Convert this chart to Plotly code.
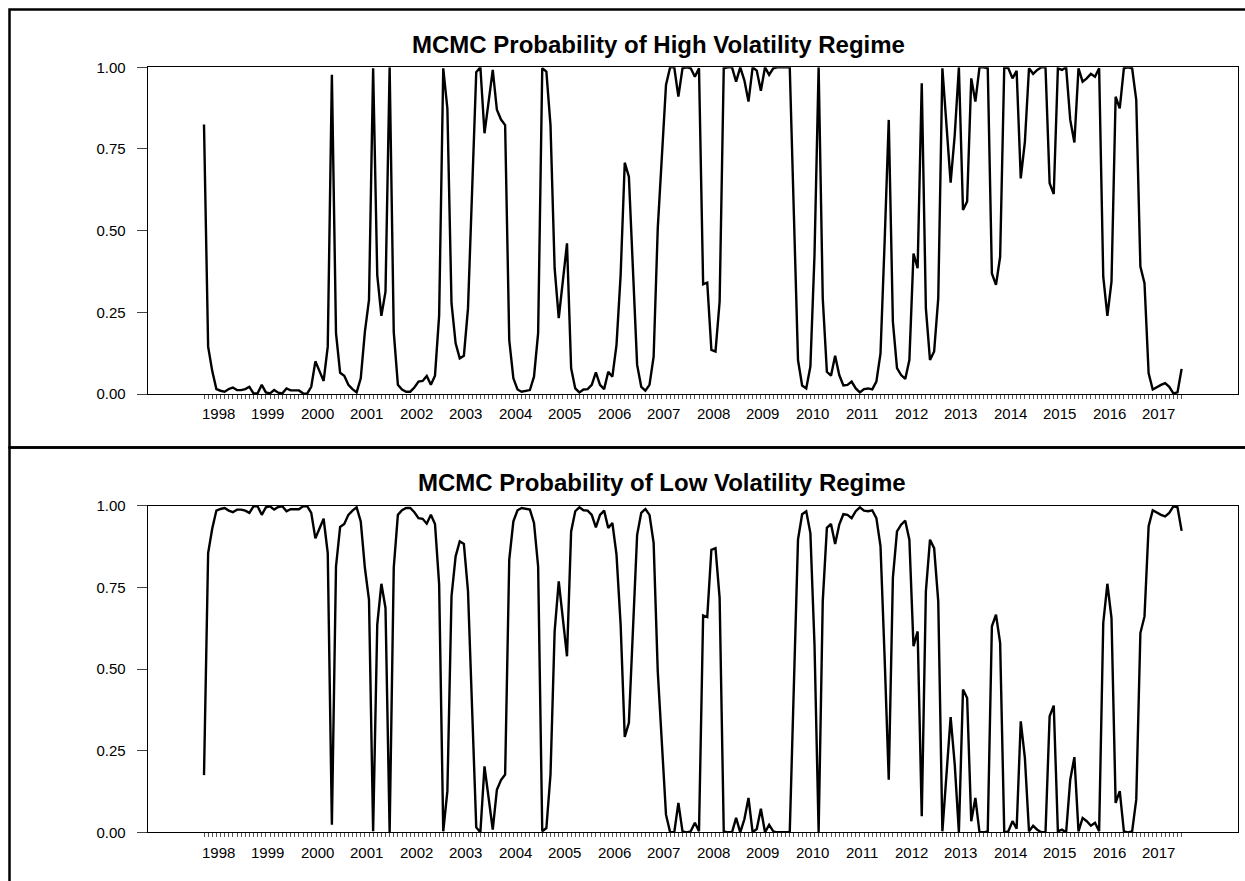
import plotly.graph_objects as go

# ---------------- data (monthly, 1998M03 - 2017M12) ----------------
start_year = 1998
start_month = 3
years = list(range(1998, 2018))
year_labels = [str(y) for y in years]
y_ticks = [0.0, 0.25, 0.5, 0.75, 1.0]
y_labels = ["0.00", "0.25", "0.50", "0.75", "1.00"]
title_high = "MCMC Probability of High Volatility Regime"
title_low = "MCMC Probability of Low Volatility Regime"

high = [
    0.825, 0.145, 0.07, 0.015, 0.01, 0.007, 0.015, 0.02, 0.012, 0.012,
    0.015, 0.022, 0.002, 0.002, 0.028, 0.005, 0.002, 0.012, 0.004, 0.002,
    0.017, 0.011, 0.011, 0.011, 0.002, 0.001, 0.022, 0.10, 0.07, 0.04,
    0.145, 0.977, 0.186, 0.065, 0.056, 0.028, 0.015, 0.005, 0.048, 0.19,
    0.288, 0.997, 0.364, 0.239, 0.313, 1.0, 0.19, 0.028, 0.014, 0.007,
    0.007, 0.02, 0.038, 0.04, 0.055, 0.028, 0.056, 0.24, 0.997, 0.874,
    0.278, 0.155, 0.109, 0.117, 0.262, 0.6, 0.985, 1.0, 0.798, 0.895,
    0.992, 0.87, 0.84, 0.823, 0.165, 0.048, 0.014, 0.007, 0.009, 0.012,
    0.053, 0.186, 0.997, 0.987, 0.823, 0.385, 0.232, 0.344, 0.461, 0.079,
    0.017, 0.005, 0.014, 0.015, 0.028, 0.066, 0.028, 0.015, 0.068, 0.053,
    0.15, 0.364, 0.708, 0.665, 0.385, 0.089, 0.022, 0.01, 0.028, 0.114,
    0.507, 0.73, 0.946, 1.0, 1.0, 0.91, 0.997, 1.0, 0.997, 0.971,
    0.997, 0.336, 0.341, 0.135, 0.13, 0.283, 0.997, 1.0, 1.0, 0.956,
    1.0, 0.96, 0.895, 1.0, 0.99, 0.928, 1.0, 0.977, 0.997, 1.0,
    1.0, 1.0, 1.0, 0.55, 0.104, 0.026, 0.017, 0.084, 0.425, 1.0,
    0.293, 0.068, 0.056, 0.117, 0.058, 0.026, 0.028, 0.038, 0.017, 0.005,
    0.015, 0.017, 0.014, 0.038, 0.124, 0.466, 0.839, 0.221, 0.079, 0.058,
    0.046, 0.104, 0.43, 0.385, 0.951, 0.262, 0.104, 0.13, 0.293, 0.997,
    0.834, 0.647, 0.793, 1.0, 0.563, 0.589, 0.966, 0.895, 1.0, 1.0,
    0.997, 0.369, 0.334, 0.42, 1.0, 0.997, 0.966, 0.989, 0.66, 0.772,
    0.997, 0.98, 0.992, 1.0, 1.0, 0.645, 0.612, 0.997, 0.992, 1.0,
    0.839, 0.77, 0.997, 0.956, 0.966, 0.98, 0.971, 0.997, 0.359, 0.239,
    0.344, 0.91, 0.874, 0.997, 1.0, 0.997, 0.9, 0.39, 0.339, 0.063,
    0.014, 0.022, 0.028, 0.033, 0.022, 0.002, 0.005, 0.077,
]

low = [
    0.175, 0.855, 0.93, 0.985, 0.99, 0.993, 0.985, 0.98, 0.988, 0.988,
    0.985, 0.978, 0.998, 0.998, 0.972, 0.995, 0.998, 0.988, 0.996, 0.998,
    0.983, 0.989, 0.989, 0.989, 0.998, 0.999, 0.978, 0.90, 0.93, 0.96,
    0.855, 0.023, 0.814, 0.935, 0.944, 0.972, 0.985, 0.995, 0.952, 0.81,
    0.712, 0.003, 0.636, 0.761, 0.687, 0.0, 0.81, 0.972, 0.986, 0.993,
    0.993, 0.98, 0.962, 0.96, 0.945, 0.972, 0.944, 0.76, 0.003, 0.126,
    0.722, 0.845, 0.891, 0.883, 0.738, 0.4, 0.015, 0.0, 0.202, 0.105,
    0.008, 0.13, 0.16, 0.177, 0.835, 0.952, 0.986, 0.993, 0.991, 0.988,
    0.947, 0.814, 0.003, 0.013, 0.177, 0.615, 0.768, 0.656, 0.539, 0.921,
    0.983, 0.995, 0.986, 0.985, 0.972, 0.934, 0.972, 0.985, 0.932, 0.947,
    0.85, 0.636, 0.292, 0.335, 0.615, 0.911, 0.978, 0.99, 0.972, 0.886,
    0.493, 0.27, 0.054, 0.0, 0.0, 0.09, 0.003, 0.0, 0.003, 0.029,
    0.003, 0.664, 0.659, 0.865, 0.87, 0.717, 0.003, 0.0, 0.0, 0.044,
    0.0, 0.04, 0.105, 0.0, 0.01, 0.072, 0.0, 0.023, 0.003, 0.0,
    0.0, 0.0, 0.0, 0.45, 0.896, 0.974, 0.983, 0.916, 0.575, 0.0,
    0.707, 0.932, 0.944, 0.883, 0.942, 0.974, 0.972, 0.962, 0.983, 0.995,
    0.985, 0.983, 0.986, 0.962, 0.876, 0.534, 0.161, 0.779, 0.921, 0.942,
    0.954, 0.896, 0.57, 0.615, 0.049, 0.738, 0.896, 0.87, 0.707, 0.003,
    0.166, 0.353, 0.207, 0.0, 0.437, 0.411, 0.034, 0.105, 0.0, 0.0,
    0.003, 0.631, 0.666, 0.58, 0.0, 0.003, 0.034, 0.011, 0.34, 0.228,
    0.003, 0.02, 0.008, 0.0, 0.0, 0.355, 0.388, 0.003, 0.008, 0.0,
    0.161, 0.23, 0.003, 0.044, 0.034, 0.02, 0.029, 0.003, 0.641, 0.761,
    0.656, 0.09, 0.126, 0.003, 0.0, 0.003, 0.1, 0.61, 0.661, 0.937,
    0.986, 0.978, 0.972, 0.967, 0.978, 0.998, 0.995, 0.923,
]

n = len(high)
idx = list(range(n))
jan_idx = [i for i in idx if (start_month - 1 + i) % 12 == 0]
label_pos = [(y - start_year) * 12 - (start_month - 1) + 5.5 for y in years]

# ---------------- layout helpers (pixel -> paper) ----------------
W, H = 1245, 881
def px(x):
    return x / W
def py(y):
    return 1 - y / H

FONT = "Liberation Sans, Arial, Helvetica, sans-serif"
plot_left, plot_right = 147.7, 1238.3
top_y1, top_y0 = 67.3, 394.0
bot_y1, bot_y0 = 505.7, 832.3
xrange_ = [(plot_left - 204.0) / 4.125, (plot_right - 204.0) / 4.125]

fig = go.Figure()
fig.add_trace(go.Scatter(x=idx, y=high, mode="lines", line=dict(color="black", width=2.4),
                         xaxis="x", yaxis="y", showlegend=False, hoverinfo="skip"))
fig.add_trace(go.Scatter(x=idx, y=low, mode="lines", line=dict(color="black", width=2.4),
                         xaxis="x2", yaxis="y2", showlegend=False, hoverinfo="skip"))

xcommon = dict(
    range=xrange_, domain=[px(plot_left), px(plot_right)],
    showline=True, linecolor="black", linewidth=1, mirror=True,
    showgrid=False, zeroline=False, automargin=False,
    tickmode="array", tickvals=jan_idx, ticktext=[""] * len(jan_idx),
    ticks="outside", ticklen=9, tickwidth=1, tickcolor="#444",
    minor=dict(tickmode="array", tickvals=idx, ticks="outside", ticklen=4,
               tickwidth=1, tickcolor="#555"),
    fixedrange=True,
)
ycommon = dict(
    range=[0, 1], showline=True, linecolor="black", linewidth=1, mirror=True,
    showgrid=False, zeroline=False, automargin=False,
    tickmode="array", tickvals=y_ticks, ticktext=y_labels,
    ticks="outside", ticklen=10, tickwidth=1, tickcolor="#444",
    ticklabelstandoff=8,
    tickfont=dict(family=FONT, size=15, color="black"),
    fixedrange=True,
)

fig.update_layout(
    width=W, height=H, autosize=False,
    margin=dict(l=0, r=0, t=0, b=0, pad=0),
    paper_bgcolor="white", plot_bgcolor="white",
    font=dict(family=FONT, size=15, color="black"),
    xaxis=dict(xcommon, anchor="y"),
    yaxis=dict(ycommon, anchor="x", domain=[py(top_y0), py(top_y1)]),
    xaxis2=dict(xcommon, anchor="y2"),
    yaxis2=dict(ycommon, anchor="x2", domain=[py(bot_y0), py(bot_y1)]),
)

annotations = []
for xref, ylab in (("x", 413.5), ("x2", 852.0)):
    for lp, txt in zip(label_pos, year_labels):
        annotations.append(dict(x=lp, y=py(ylab), xref=xref, yref="paper", text=txt,
                                showarrow=False, xanchor="center", yanchor="middle",
                                font=dict(family=FONT, size=15, color="black")))
annotations.append(dict(x=px(658), y=py(44.5), xref="paper", yref="paper", text="<b>%s</b>" % title_high,
                        showarrow=False, xanchor="center", yanchor="middle",
                        font=dict(family=FONT, size=24, color="black")))
annotations.append(dict(x=px(662), y=py(483), xref="paper", yref="paper", text="<b>%s</b>" % title_low,
                        showarrow=False, xanchor="center", yanchor="middle",
                        font=dict(family=FONT, size=24, color="black")))
fig.update_layout(annotations=annotations)

# panel frames (right and bottom edges lie beyond the picture)
shapes = [
    dict(type="rect", xref="paper", yref="paper", x0=px(9.5), x1=px(1270), y0=py(447.5), y1=py(9.5),
         line=dict(color="black", width=2.5)),
    dict(type="rect", xref="paper", yref="paper", x0=px(9.5), x1=px(1270), y0=py(900), y1=py(447.5),
         line=dict(color="black", width=2.5)),
]
fig.update_layout(shapes=shapes)

fig.write_html(
    "out.html",
    config={"displayModeBar": False, "staticPlot": True},
    post_script="document.body.style.margin='0px';document.body.style.overflow='hidden';",
)
